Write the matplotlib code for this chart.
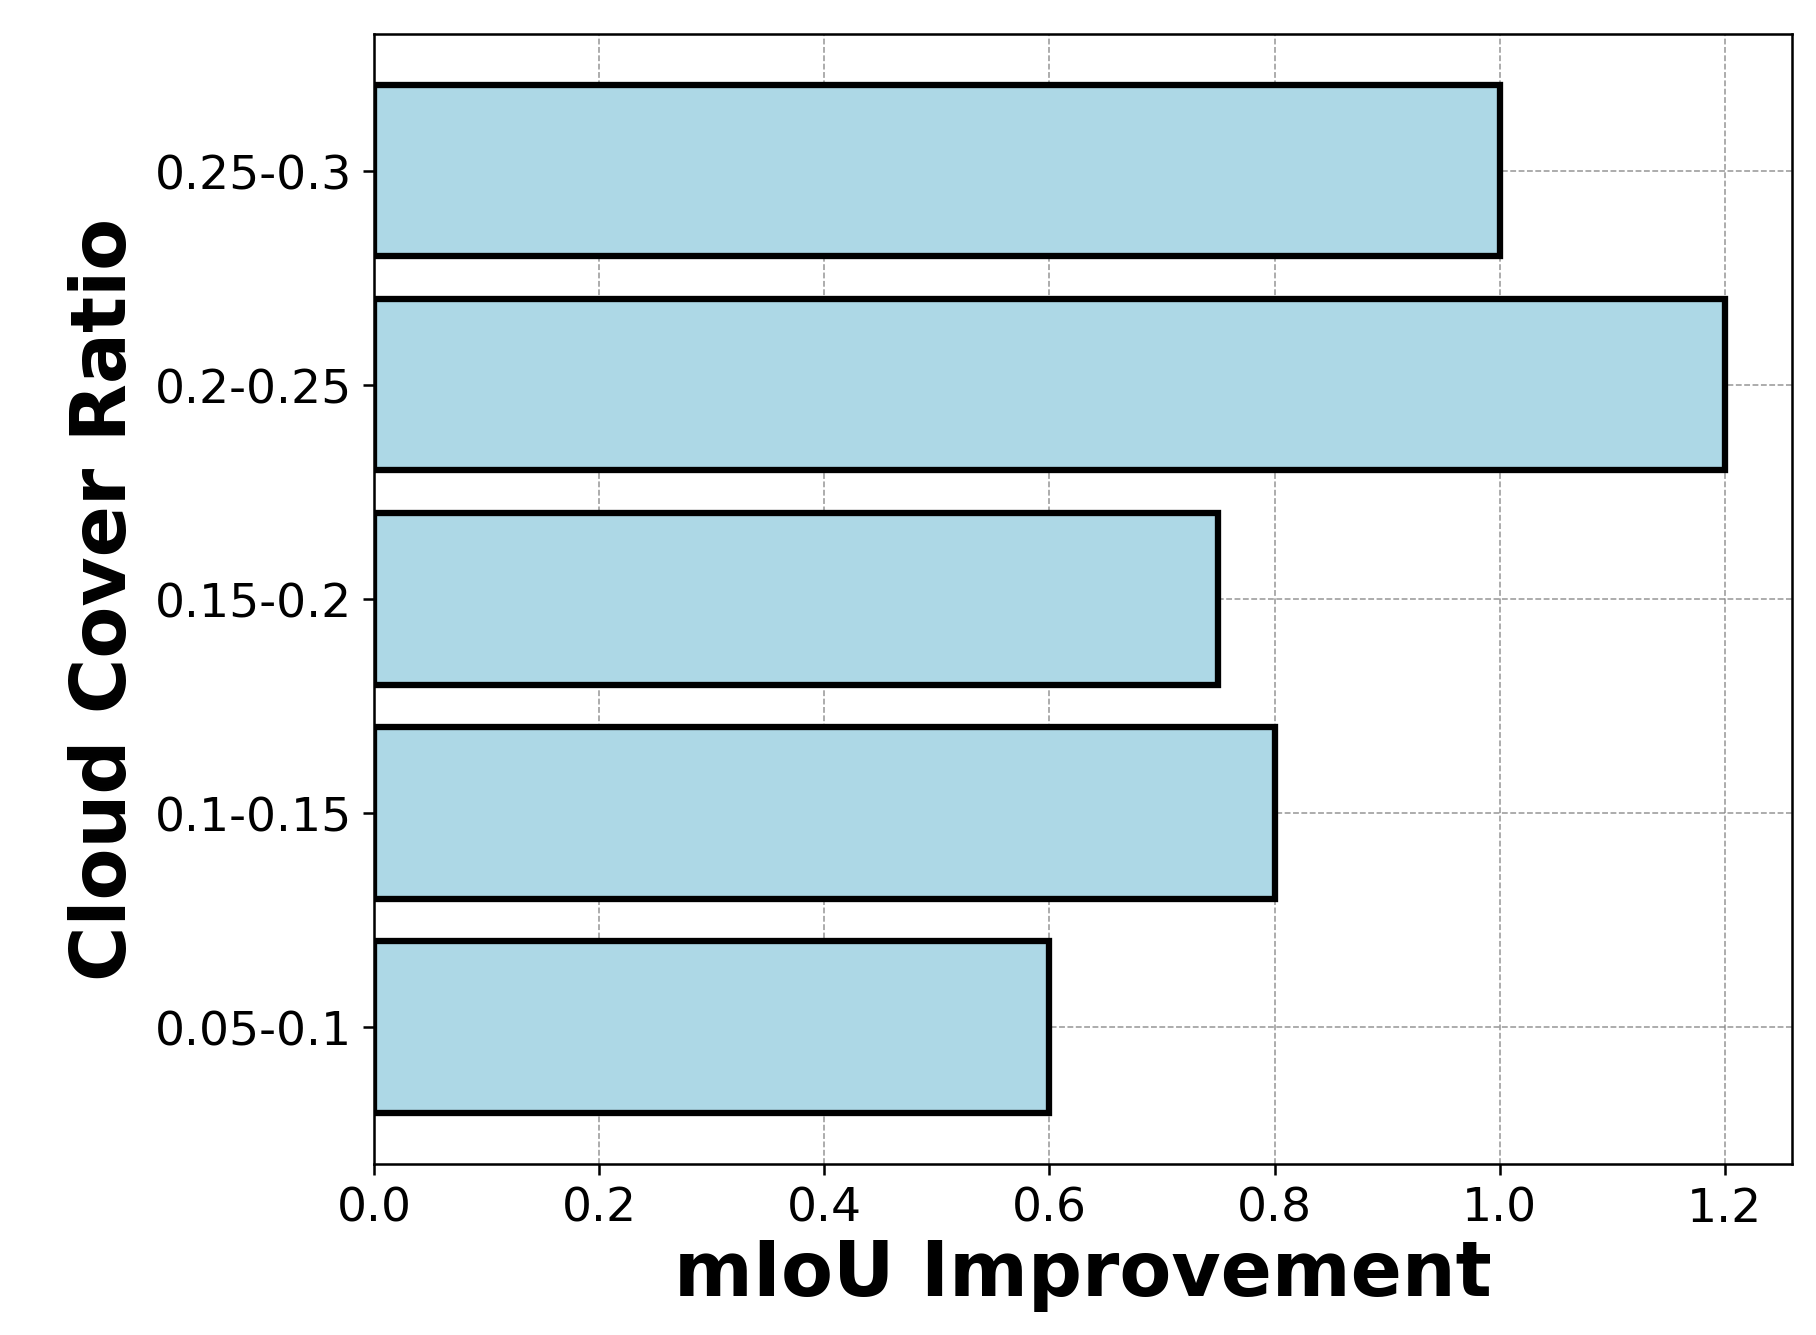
import matplotlib
matplotlib.use('Agg')
import matplotlib.pyplot as plt

categories = ['0.05-0.1', '0.1-0.15', '0.15-0.2', '0.2-0.25', '0.25-0.3']
improvement = [0.6, 0.8, 0.75, 1.2, 1.0]

fig = plt.figure(figsize=(8, 5.885), dpi=227)
ax = fig.add_axes([0.206, 0.128, 0.781, 0.846])

ax.barh(categories, improvement, height=0.8, color='lightblue', edgecolor='black', linewidth=2, zorder=3)
ax.grid(True, linestyle='--', linewidth=0.5, color='gray', alpha=0.8, zorder=0)
ax.set_xlim(0, 1.26)

ax.tick_params(labelsize=15)
ax.set_xlabel('mIoU Improvement', fontsize=24, fontweight='bold', labelpad=2)
ax.set_ylabel('Cloud Cover Ratio', fontsize=24, fontweight='bold')

fig.savefig('out.png')
